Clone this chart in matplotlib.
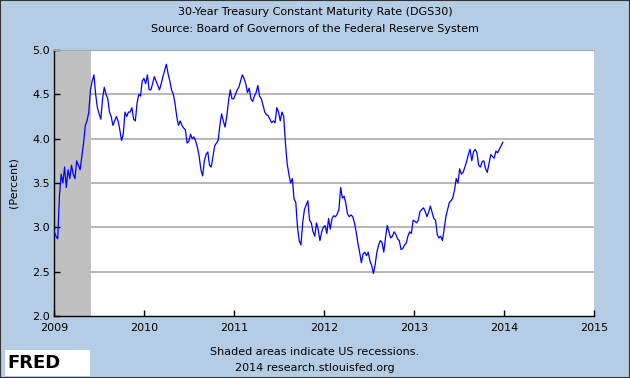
import pandas as pd
import matplotlib
matplotlib.use("Agg")
import matplotlib.pyplot as plt
from matplotlib.patches import Rectangle

# weekly readings of DGS30 (percent)
v2009 = [2.95, 2.9, 2.87, 3.35, 3.6, 3.5, 3.68, 3.45, 3.65, 3.55, 3.7, 3.6, 3.55,
         3.75, 3.7, 3.65, 3.8, 3.95, 4.15, 4.2, 4.3, 4.55, 4.65, 4.72, 4.5, 4.35,
         4.28, 4.22, 4.45, 4.58, 4.5, 4.45, 4.3, 4.25, 4.15, 4.2, 4.25, 4.2, 4.1,
         3.98, 4.05, 4.3, 4.25, 4.3, 4.3, 4.35, 4.22, 4.2, 4.4, 4.5, 4.48, 4.65]
v2010 = [4.68, 4.62, 4.72, 4.55, 4.55, 4.62, 4.7, 4.65, 4.6, 4.55, 4.62, 4.7, 4.77,
         4.84, 4.73, 4.65, 4.55, 4.5, 4.4, 4.25, 4.15, 4.2, 4.15, 4.12, 4.1, 3.95,
         3.97, 4.05, 4.0, 4.02, 3.97, 3.9, 3.8, 3.65, 3.58, 3.75, 3.82, 3.85, 3.7,
         3.68, 3.8, 3.92, 3.95, 3.98, 4.15, 4.28, 4.2, 4.13, 4.25, 4.42, 4.55, 4.45]
v2011 = [4.45, 4.5, 4.55, 4.58, 4.65, 4.72, 4.68, 4.62, 4.52, 4.57, 4.45, 4.42, 4.48,
         4.52, 4.6, 4.48, 4.45, 4.38, 4.3, 4.27, 4.26, 4.22, 4.18, 4.2, 4.18, 4.35,
         4.3, 4.2, 4.3, 4.25, 3.95, 3.72, 3.6, 3.5, 3.55, 3.32, 3.28, 3.0, 2.85,
         2.8, 3.05, 3.2, 3.25, 3.3, 3.08, 3.05, 2.95, 2.9, 3.05, 2.97, 2.85, 2.95]
v2012 = [3.0, 3.02, 2.93, 3.1, 2.98, 3.1, 3.13, 3.12, 3.15, 3.2, 3.45, 3.33, 3.35,
         3.27, 3.15, 3.12, 3.14, 3.12, 3.05, 2.95, 2.82, 2.72, 2.6, 2.7, 2.72, 2.68,
         2.72, 2.62, 2.57, 2.48, 2.58, 2.72, 2.8, 2.85, 2.83, 2.72, 2.88, 3.02, 2.95,
         2.88, 2.9, 2.95, 2.92, 2.87, 2.85, 2.75, 2.76, 2.8, 2.82, 2.9, 2.95, 2.93]
v2013 = [3.08, 3.07, 3.05, 3.08, 3.18, 3.2, 3.22, 3.18, 3.12, 3.17, 3.24, 3.17, 3.1,
         3.08, 2.92, 2.88, 2.9, 2.85, 2.98, 3.12, 3.2, 3.28, 3.3, 3.33, 3.42, 3.55,
         3.5, 3.66, 3.6, 3.62, 3.68, 3.74, 3.82, 3.88, 3.75, 3.85, 3.88, 3.84, 3.7,
         3.68, 3.74, 3.75, 3.66, 3.62, 3.72, 3.82, 3.8, 3.78, 3.86, 3.84, 3.88, 3.92,
         3.96]

rate = v2009 + v2010 + v2011 + v2012 + v2013
dates = pd.date_range("2009-01-02", periods=len(rate), freq="7D")

recession_start = "2009-01-01"
recession_end = "2009-06-01"
year_ticks = [str(y) for y in range(2009, 2016)]
y_ticks = [2.0, 2.5, 3.0, 3.5, 4.0, 4.5, 5.0]

bg = "#b4cde4"
fig = plt.figure(figsize=(6.3, 3.78), dpi=100, facecolor=bg)
ax = fig.add_axes([54 / 630, 1 - 316 / 378, 540 / 630, 266 / 378])
ax.set_facecolor("white")

ax.axvspan(pd.Timestamp(recession_start), pd.Timestamp(recession_end),
           color="#c0c0c0", zorder=1, lw=0)
for yv in y_ticks[1:-1]:
    ax.axhline(yv, color="#aaaaaa", lw=1.2, zorder=0)

ax.plot(dates, rate, color="#0000ff", lw=0.9, zorder=3)

ax.set_xlim(pd.Timestamp("2009-01-01"), pd.Timestamp("2015-01-01"))
ax.set_ylim(2.0, 5.0)
ax.set_xticks([pd.Timestamp(y + "-01-01") for y in year_ticks])
ax.set_xticklabels(year_ticks)
ax.set_yticks(y_ticks)
ax.set_yticklabels(["%.1f" % t for t in y_ticks])
ax.tick_params(direction="in", length=4, width=1, labelsize=8, colors="black")
ax.tick_params(axis="x", pad=5)
ax.tick_params(axis="y", pad=3)

for s in ["left", "bottom"]:
    ax.spines[s].set_color("black")
    ax.spines[s].set_linewidth(1)
ax.spines["top"].set_color("#aaaaaa")
ax.spines["right"].set_visible(False)

ax.set_ylabel("(Percent)", fontsize=8, labelpad=10)

fig.text(0.5, 1 - 12 / 378, "30-Year Treasury Constant Maturity Rate (DGS30)",
         ha="center", va="center", fontsize=8)
fig.text(0.5, 1 - 29 / 378, "Source: Board of Governors of the Federal Reserve System",
         ha="center", va="center", fontsize=8)
fig.text(0.5, 1 - 352 / 378, "Shaded areas indicate US recessions.",
         ha="center", va="center", fontsize=8)
fig.text(0.5, 1 - 368 / 378, "2014 research.stlouisfed.org",
         ha="center", va="center", fontsize=8)

# FRED logo
fig.patches.append(Rectangle((5 / 630, 1 - 376 / 378), 85 / 630, 26 / 378,
                             transform=fig.transFigure, facecolor="white",
                             edgecolor="none"))
fig.text(7 / 630, 1 - 363 / 378, "FRED", ha="left", va="center",
         fontsize=13, fontweight="bold", color="black")

fig.patches.append(Rectangle((0, 0), 1, 1, transform=fig.transFigure,
                             facecolor="none", edgecolor="#333333", lw=1.5))

fig.savefig("out.png", dpi=100, facecolor=bg)
